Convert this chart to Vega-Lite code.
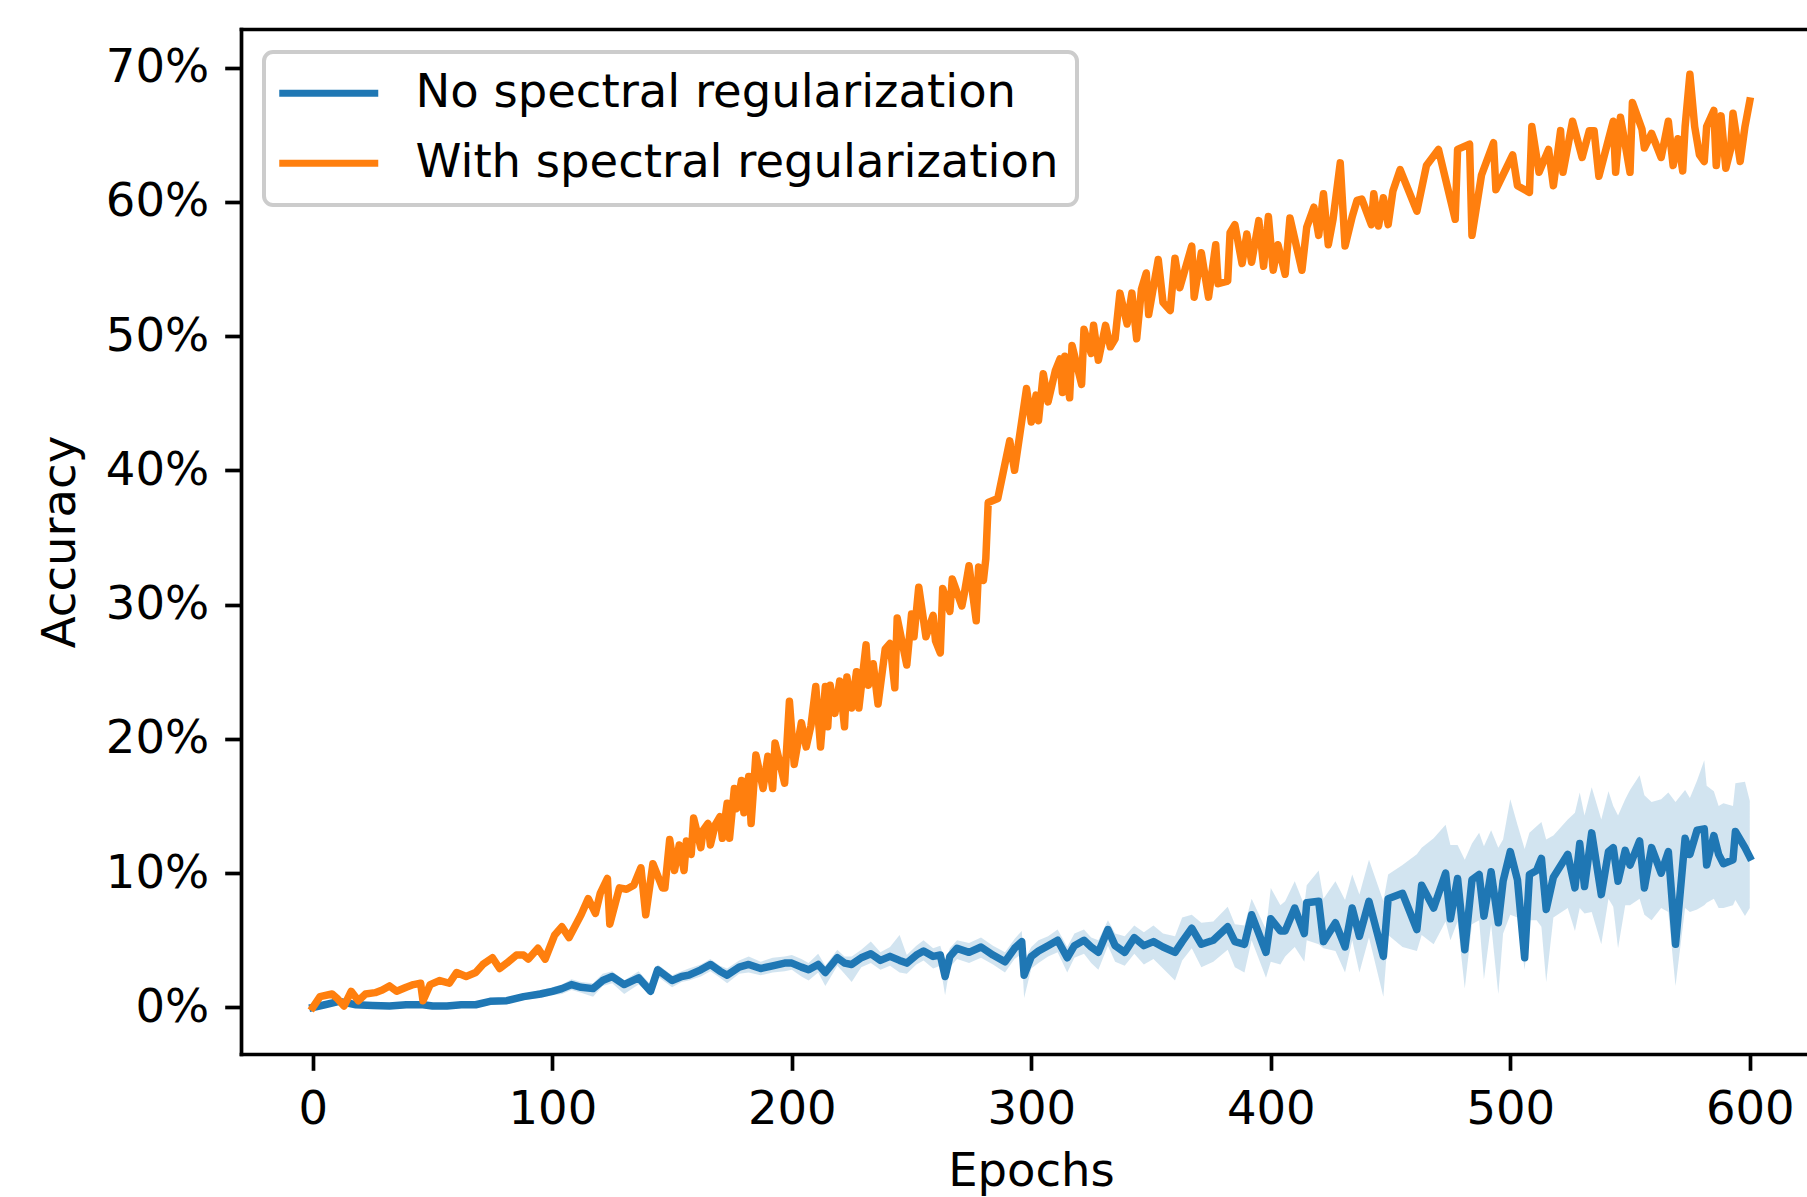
{
  "$schema": "https://vega.github.io/schema/vega-lite/v6.json",
  "width": 1566,
  "height": 1025,
  "autosize": {"type": "none"},
  "padding": {"left": 241, "top": 29, "right": 0, "bottom": 143},
  "background": "white",
  "config": {
    "view": {"stroke": null},
    "font": "DejaVu Sans",
    "axis": {
      "grid": false,
      "domainColor": "#000000",
      "domainWidth": 3.7,
      "domainCap": "square",
      "tickColor": "#000000",
      "tickWidth": 3.7,
      "tickSize": 16.3,
      "labelPadding": 16,
      "labelFontSize": 46.5,
      "labelFont": "DejaVu Sans",
      "labelColor": "#000000",
      "labelFlush": false,
      "labelOverlap": false,
      "titleFont": "DejaVu Sans",
      "titleFontSize": 46.5,
      "titleFontWeight": "normal",
      "titleColor": "#000000"
    },
    "legend": {
      "title": null,
      "orient": "none",
      "legendX": 23,
      "legendY": 23,
      "symbolType": "M-2.6,0H7.3",
      "symbolSize": 400,
      "symbolStrokeWidth": 7,
      "labelFont": "DejaVu Sans",
      "labelFontSize": 46.5,
      "labelColor": "#000000",
      "labelOffset": 87,
      "labelLimit": 0,
      "rowPadding": 23,
      "padding": 18,
      "strokeColor": "#cccccc",
      "fillColor": "rgba(255,255,255,0.8)",
      "cornerRadius": 9,
      "strokeWidth": 4
    }
  },
  "datasets": {
    "blue": [
      {"e":0,"v":0,"lo":0,"hi":0},
      {"e":5,"v":0.2,"lo":0.1,"hi":0.3},
      {"e":11,"v":0.45,"lo":0.3,"hi":0.6},
      {"e":18,"v":0.2,"lo":0.1,"hi":0.35},
      {"e":25,"v":0.15,"lo":0.05,"hi":0.3},
      {"e":32,"v":0.1,"lo":0.0,"hi":0.25},
      {"e":39,"v":0.2,"lo":0.05,"hi":0.35},
      {"e":46,"v":0.2,"lo":0.05,"hi":0.35},
      {"e":50,"v":0.1,"lo":-0.05,"hi":0.25},
      {"e":56,"v":0.1,"lo":0.0,"hi":0.25},
      {"e":62,"v":0.2,"lo":0.05,"hi":0.35},
      {"e":68,"v":0.2,"lo":0.05,"hi":0.4},
      {"e":74,"v":0.45,"lo":0.25,"hi":0.65},
      {"e":81,"v":0.5,"lo":0.3,"hi":0.75},
      {"e":88,"v":0.8,"lo":0.55,"hi":1.0},
      {"e":95,"v":1.0,"lo":0.7,"hi":1.3},
      {"e":100,"v":1.2,"lo":0.9,"hi":1.5},
      {"e":104,"v":1.4,"lo":1.0,"hi":1.7},
      {"e":108,"v":1.7,"lo":1.3,"hi":2.1},
      {"e":112,"v":1.5,"lo":1.1,"hi":1.9},
      {"e":117,"v":1.4,"lo":0.8,"hi":1.8},
      {"e":121,"v":2.0,"lo":1.6,"hi":2.5},
      {"e":125,"v":2.3,"lo":1.8,"hi":2.7},
      {"e":130,"v":1.7,"lo":1.0,"hi":2.0},
      {"e":136,"v":2.2,"lo":1.7,"hi":2.7},
      {"e":141,"v":1.2,"lo":0.9,"hi":1.7},
      {"e":144,"v":2.8,"lo":2.3,"hi":3.2},
      {"e":150,"v":2.0,"lo":1.5,"hi":2.4},
      {"e":154,"v":2.3,"lo":1.9,"hi":2.7},
      {"e":157,"v":2.4,"lo":2.0,"hi":2.9},
      {"e":162,"v":2.8,"lo":2.3,"hi":3.2},
      {"e":166,"v":3.2,"lo":2.7,"hi":3.6},
      {"e":170,"v":2.7,"lo":2.2,"hi":3.1},
      {"e":173,"v":2.4,"lo":1.8,"hi":2.9},
      {"e":178,"v":3.0,"lo":2.5,"hi":3.5},
      {"e":182,"v":3.2,"lo":2.6,"hi":3.8},
      {"e":187,"v":2.9,"lo":2.4,"hi":3.4},
      {"e":192,"v":3.1,"lo":2.6,"hi":3.7},
      {"e":197,"v":3.3,"lo":2.7,"hi":3.8},
      {"e":200,"v":3.3,"lo":2.8,"hi":3.9},
      {"e":204,"v":3.0,"lo":2.3,"hi":3.6},
      {"e":207,"v":2.8,"lo":2.0,"hi":3.3},
      {"e":211,"v":3.2,"lo":2.6,"hi":4.0},
      {"e":214,"v":2.6,"lo":1.6,"hi":3.1},
      {"e":219,"v":3.7,"lo":3.1,"hi":4.3},
      {"e":222,"v":3.3,"lo":2.5,"hi":3.8},
      {"e":225,"v":3.2,"lo":1.9,"hi":3.8},
      {"e":229,"v":3.7,"lo":3.0,"hi":4.3},
      {"e":233,"v":4.0,"lo":3.3,"hi":4.9},
      {"e":237,"v":3.5,"lo":2.8,"hi":4.1},
      {"e":241,"v":3.8,"lo":3.1,"hi":4.5},
      {"e":245,"v":3.5,"lo":2.6,"hi":5.4},
      {"e":248,"v":3.3,"lo":2.5,"hi":3.9},
      {"e":252,"v":3.9,"lo":3.2,"hi":4.6},
      {"e":255,"v":4.2,"lo":3.5,"hi":5.0},
      {"e":259,"v":3.8,"lo":2.9,"hi":4.4},
      {"e":262,"v":3.9,"lo":3.1,"hi":4.6},
      {"e":264,"v":2.3,"lo":0.9,"hi":3.4},
      {"e":266,"v":3.8,"lo":3.0,"hi":4.4},
      {"e":269,"v":4.4,"lo":3.6,"hi":5.0},
      {"e":274,"v":4.1,"lo":3.3,"hi":4.8},
      {"e":279,"v":4.5,"lo":3.7,"hi":5.2},
      {"e":284,"v":3.9,"lo":3.2,"hi":4.6},
      {"e":289,"v":3.4,"lo":2.6,"hi":4.1},
      {"e":293,"v":4.4,"lo":3.6,"hi":5.1},
      {"e":296,"v":4.9,"lo":4.0,"hi":5.7},
      {"e":297,"v":2.4,"lo":0.7,"hi":3.5},
      {"e":300,"v":3.8,"lo":2.9,"hi":4.5},
      {"e":303,"v":4.2,"lo":3.3,"hi":5.0},
      {"e":307,"v":4.6,"lo":3.8,"hi":5.3},
      {"e":311,"v":5.0,"lo":4.1,"hi":5.8},
      {"e":315,"v":3.7,"lo":2.6,"hi":4.5},
      {"e":318,"v":4.6,"lo":3.7,"hi":5.5},
      {"e":322,"v":5.0,"lo":4.0,"hi":5.8},
      {"e":325,"v":4.5,"lo":3.3,"hi":5.2},
      {"e":328,"v":4.1,"lo":2.8,"hi":5.0},
      {"e":332,"v":5.8,"lo":4.6,"hi":6.5},
      {"e":335,"v":4.6,"lo":3.4,"hi":5.5},
      {"e":339,"v":4.1,"lo":3.1,"hi":5.3},
      {"e":343,"v":5.2,"lo":4.0,"hi":6.1},
      {"e":347,"v":4.6,"lo":3.2,"hi":5.6},
      {"e":351,"v":4.9,"lo":3.6,"hi":6.1},
      {"e":355,"v":4.5,"lo":2.9,"hi":5.5},
      {"e":360,"v":4.1,"lo":2.0,"hi":5.3},
      {"e":363,"v":4.9,"lo":3.5,"hi":6.7},
      {"e":367,"v":5.9,"lo":4.4,"hi":6.9},
      {"e":371,"v":4.7,"lo":3.0,"hi":6.3},
      {"e":376,"v":5.0,"lo":3.4,"hi":6.4},
      {"e":382,"v":6.0,"lo":4.3,"hi":7.5},
      {"e":385,"v":4.9,"lo":3.0,"hi":6.2},
      {"e":389,"v":4.7,"lo":2.6,"hi":6.1},
      {"e":392,"v":6.9,"lo":5.0,"hi":8.1},
      {"e":398,"v":4.1,"lo":2.2,"hi":5.8},
      {"e":400,"v":6.6,"lo":3.4,"hi":8.9},
      {"e":404,"v":5.7,"lo":3.2,"hi":7.6},
      {"e":406,"v":5.7,"lo":3.8,"hi":7.9},
      {"e":410,"v":7.4,"lo":4.5,"hi":9.4},
      {"e":414,"v":5.5,"lo":3.4,"hi":7.6},
      {"e":415,"v":7.8,"lo":5.0,"hi":9.1},
      {"e":420,"v":7.9,"lo":4.7,"hi":10.2},
      {"e":422,"v":4.9,"lo":4.4,"hi":8.1},
      {"e":427,"v":6.3,"lo":4.2,"hi":9.4},
      {"e":431,"v":4.5,"lo":2.6,"hi":8.0},
      {"e":434,"v":7.4,"lo":5.0,"hi":9.9},
      {"e":437,"v":5.3,"lo":2.6,"hi":8.4},
      {"e":441,"v":7.9,"lo":5.2,"hi":11.0},
      {"e":447,"v":3.8,"lo":0.8,"hi":7.9},
      {"e":449,"v":8.1,"lo":5.4,"hi":9.9},
      {"e":455,"v":8.5,"lo":4.5,"hi":10.6},
      {"e":461,"v":5.8,"lo":4.2,"hi":11.4},
      {"e":463,"v":9.1,"lo":5.4,"hi":11.9},
      {"e":468,"v":7.4,"lo":4.7,"hi":12.6},
      {"e":473,"v":10.0,"lo":6.4,"hi":13.6},
      {"e":475,"v":6.6,"lo":5.0,"hi":12.1},
      {"e":478,"v":9.6,"lo":6.4,"hi":12.1},
      {"e":481,"v":4.3,"lo":1.4,"hi":11.0},
      {"e":484,"v":9.5,"lo":6.2,"hi":12.2},
      {"e":487,"v":9.9,"lo":6.5,"hi":13.0},
      {"e":489,"v":6.8,"lo":2.1,"hi":12.0},
      {"e":492,"v":10.1,"lo":6.2,"hi":13.2},
      {"e":495,"v":6.3,"lo":1.0,"hi":11.9},
      {"e":497,"v":9.4,"lo":5.5,"hi":12.5},
      {"e":500,"v":11.6,"lo":6.9,"hi":15.5},
      {"e":503,"v":9.5,"lo":6.7,"hi":13.6},
      {"e":506,"v":3.7,"lo":2.8,"hi":11.8},
      {"e":508,"v":9.9,"lo":6.5,"hi":13.0},
      {"e":511,"v":10.2,"lo":6.5,"hi":13.5},
      {"e":513,"v":11.1,"lo":6.0,"hi":13.8},
      {"e":515,"v":7.3,"lo":1.9,"hi":12.5},
      {"e":518,"v":9.7,"lo":6.7,"hi":12.8},
      {"e":524,"v":11.4,"lo":7.4,"hi":14.0},
      {"e":527,"v":8.9,"lo":5.7,"hi":14.5},
      {"e":529,"v":12.2,"lo":7.4,"hi":16.0},
      {"e":531,"v":9.0,"lo":7.0,"hi":14.3},
      {"e":534,"v":13.0,"lo":7.1,"hi":16.4},
      {"e":538,"v":8.4,"lo":4.7,"hi":14.0},
      {"e":541,"v":11.6,"lo":8.1,"hi":16.1},
      {"e":543,"v":11.9,"lo":7.5,"hi":15.0},
      {"e":545,"v":9.4,"lo":4.4,"hi":14.3},
      {"e":548,"v":11.7,"lo":7.6,"hi":15.5},
      {"e":550,"v":10.6,"lo":7.6,"hi":16.2},
      {"e":554,"v":12.4,"lo":8.1,"hi":17.3},
      {"e":556,"v":8.9,"lo":6.9,"hi":15.8},
      {"e":559,"v":11.9,"lo":6.5,"hi":15.3},
      {"e":563,"v":10.0,"lo":7.4,"hi":15.5},
      {"e":566,"v":11.6,"lo":7.1,"hi":16.0},
      {"e":569,"v":4.7,"lo":1.6,"hi":15.3},
      {"e":573,"v":12.6,"lo":7.4,"hi":16.2},
      {"e":575,"v":11.4,"lo":7.1,"hi":15.6},
      {"e":578,"v":13.2,"lo":7.3,"hi":16.9},
      {"e":581,"v":13.3,"lo":7.6,"hi":18.4},
      {"e":582,"v":10.6,"lo":7.8,"hi":16.5},
      {"e":585,"v":12.8,"lo":8.1,"hi":16.1},
      {"e":587,"v":11.4,"lo":7.4,"hi":15.0},
      {"e":589,"v":10.7,"lo":7.4,"hi":15.2},
      {"e":593,"v":11.0,"lo":7.6,"hi":15.0},
      {"e":594,"v":13.1,"lo":8.0,"hi":16.7},
      {"e":598,"v":11.9,"lo":6.8,"hi":16.8},
      {"e":600,"v":11.2,"lo":7.4,"hi":15.4}
    ],
    "orange": [
      {"e":0,"v":0.0},{"e":3,"v":0.8},{"e":8,"v":1.0},{"e":10,"v":0.7},{"e":13,"v":0.1},
      {"e":16,"v":1.2},{"e":19,"v":0.5},{"e":22,"v":1.0},{"e":26,"v":1.1},{"e":29,"v":1.3},
      {"e":32,"v":1.6},{"e":35,"v":1.2},{"e":39,"v":1.5},{"e":42,"v":1.7},{"e":45,"v":1.8},
      {"e":46,"v":0.5},{"e":49,"v":1.7},{"e":53,"v":2.0},{"e":57,"v":1.8},{"e":60,"v":2.6},
      {"e":64,"v":2.3},{"e":68,"v":2.6},{"e":71,"v":3.2},{"e":75,"v":3.7},{"e":78,"v":2.9},
      {"e":81,"v":3.3},{"e":85,"v":3.9},{"e":88,"v":3.9},{"e":90,"v":3.6},{"e":94,"v":4.4},
      {"e":97,"v":3.6},{"e":101,"v":5.4},{"e":104,"v":6.0},{"e":107,"v":5.2},{"e":112,"v":6.9},
      {"e":115,"v":8.1},{"e":118,"v":7.0},{"e":120,"v":8.5},{"e":123,"v":9.6},{"e":124,"v":6.2},
      {"e":128,"v":8.9},{"e":131,"v":8.8},{"e":134,"v":9.1},{"e":137,"v":10.4},{"e":139,"v":6.9},
      {"e":142,"v":10.7},{"e":146,"v":8.9},{"e":147,"v":8.9},{"e":149,"v":12.5},{"e":151,"v":10.2},
      {"e":153,"v":12.1},{"e":155,"v":10.2},{"e":156,"v":12.4},{"e":158,"v":11.4},{"e":159,"v":14.1},
      {"e":162,"v":11.9},{"e":163,"v":13.2},{"e":165,"v":13.7},{"e":166,"v":12.1},{"e":168,"v":13.6},
      {"e":170,"v":14.2},{"e":171,"v":12.6},{"e":173,"v":15.2},{"e":174,"v":12.6},{"e":176,"v":16.3},
      {"e":177,"v":14.8},{"e":179,"v":16.9},{"e":180,"v":14.5},{"e":182,"v":17.2},{"e":183,"v":13.7},
      {"e":185,"v":18.8},{"e":188,"v":16.3},{"e":190,"v":18.7},{"e":192,"v":16.3},{"e":193,"v":19.7},
      {"e":197,"v":16.7},{"e":199,"v":22.8},{"e":201,"v":18.1},{"e":204,"v":21.2},{"e":206,"v":19.4},
      {"e":208,"v":21.0},{"e":210,"v":23.9},{"e":212,"v":19.4},{"e":214,"v":23.9},{"e":215,"v":20.9},
      {"e":216,"v":24.0},{"e":218,"v":21.9},{"e":220,"v":24.3},{"e":222,"v":20.9},{"e":223,"v":24.6},
      {"e":225,"v":22.3},{"e":227,"v":25.0},{"e":228,"v":22.3},{"e":231,"v":27.0},{"e":232,"v":24.0},
      {"e":234,"v":25.6},{"e":236,"v":22.6},{"e":239,"v":26.7},{"e":241,"v":27.1},{"e":243,"v":23.8},
      {"e":244,"v":29.0},{"e":248,"v":25.5},{"e":250,"v":29.3},{"e":251,"v":27.6},{"e":253,"v":31.3},
      {"e":256,"v":27.6},{"e":259,"v":29.2},{"e":260,"v":27.3},{"e":262,"v":26.4},{"e":263,"v":31.2},
      {"e":266,"v":29.5},{"e":267,"v":31.9},{"e":271,"v":29.9},{"e":272,"v":30.8},{"e":274,"v":32.9},
      {"e":277,"v":28.8},{"e":278,"v":32.8},{"e":280,"v":31.8},{"e":281,"v":33.4},{"e":282,"v":37.6},
      {"e":286,"v":37.9},{"e":291,"v":42.2},{"e":293,"v":40.0},{"e":298,"v":46.1},{"e":300,"v":43.6},
      {"e":302,"v":45.6},{"e":303,"v":43.7},{"e":305,"v":47.2},{"e":307,"v":45.1},{"e":310,"v":47.4},
      {"e":312,"v":48.3},{"e":313,"v":45.8},{"e":314,"v":48.5},{"e":316,"v":45.4},{"e":317,"v":49.3},
      {"e":321,"v":46.4},{"e":322,"v":50.5},{"e":325,"v":48.7},{"e":326,"v":50.8},{"e":328,"v":48.2},
      {"e":331,"v":50.8},{"e":333,"v":49.2},{"e":335,"v":49.8},{"e":337,"v":53.2},{"e":340,"v":50.9},
      {"e":342,"v":53.2},{"e":344,"v":49.8},{"e":346,"v":53.5},{"e":348,"v":54.7},{"e":349,"v":51.6},
      {"e":353,"v":55.7},{"e":355,"v":52.5},{"e":358,"v":51.9},{"e":360,"v":55.8},{"e":362,"v":53.6},
      {"e":367,"v":56.7},{"e":368,"v":52.9},{"e":371,"v":56.2},{"e":374,"v":52.9},{"e":377,"v":56.8},
      {"e":378,"v":53.9},{"e":382,"v":54.1},{"e":383,"v":57.7},{"e":385,"v":58.3},{"e":388,"v":55.4},
      {"e":390,"v":57.6},{"e":392,"v":55.5},{"e":395,"v":58.6},{"e":397,"v":55.2},{"e":399,"v":58.9},
      {"e":401,"v":54.9},{"e":403,"v":56.8},{"e":406,"v":54.6},{"e":408,"v":58.8},{"e":413,"v":54.9},
      {"e":415,"v":58.1},{"e":418,"v":59.6},{"e":420,"v":57.5},{"e":422,"v":60.6},{"e":424,"v":56.8},
      {"e":426,"v":58.7},{"e":429,"v":62.9},{"e":431,"v":56.7},{"e":434,"v":58.9},{"e":436,"v":60.1},
      {"e":438,"v":60.2},{"e":442,"v":58.3},{"e":443,"v":60.6},{"e":445,"v":58.2},{"e":447,"v":60.3},
      {"e":449,"v":58.3},{"e":451,"v":60.8},{"e":454,"v":62.4},{"e":461,"v":59.3},{"e":465,"v":62.7},
      {"e":470,"v":63.9},{"e":477,"v":58.7},{"e":478,"v":63.9},{"e":483,"v":64.3},{"e":484,"v":57.5},
      {"e":488,"v":62.0},{"e":493,"v":64.4},{"e":494,"v":60.9},{"e":501,"v":63.5},{"e":503,"v":61.2},
      {"e":508,"v":60.7},{"e":509,"v":65.6},{"e":512,"v":62.2},{"e":516,"v":63.9},{"e":518,"v":61.2},
      {"e":521,"v":65.3},{"e":522,"v":62.2},{"e":526,"v":66.0},{"e":530,"v":63.3},{"e":533,"v":65.3},
      {"e":535,"v":65.3},{"e":537,"v":61.9},{"e":543,"v":66.0},{"e":544,"v":62.2},{"e":546,"v":66.3},
      {"e":550,"v":62.2},{"e":551,"v":67.4},{"e":555,"v":65.4},{"e":556,"v":64.0},{"e":559,"v":65.1},
      {"e":563,"v":63.3},{"e":566,"v":66.0},{"e":568,"v":62.7},{"e":570,"v":64.7},{"e":572,"v":62.3},
      {"e":573,"v":65.6},{"e":575,"v":69.5},{"e":577,"v":65.6},{"e":579,"v":63.5},{"e":581,"v":63.0},
      {"e":582,"v":65.6},{"e":585,"v":66.8},{"e":586,"v":62.7},{"e":588,"v":66.4},{"e":590,"v":62.5},
      {"e":592,"v":63.9},{"e":593,"v":66.6},{"e":596,"v":63.0},{"e":598,"v":65.6},{"e":600,"v":67.5}
    ]
  },
  "layer": [
    {
      "data": {"name": "blue"},
      "mark": {"type": "area", "color": "#1f77b4", "fillOpacity": 0.2, "strokeWidth": 0},
      "encoding": {
        "x": {
          "field": "e", "type": "quantitative",
          "scale": {"domain": [-30, 623.9], "nice": false, "zero": false},
          "axis": {"orient": "top", "labels": false, "ticks": false, "title": null, "domain": true}
        },
        "y": {
          "field": "lo", "type": "quantitative", "title": "Accuracy",
          "scale": {"domain": [-3.47, 72.87], "nice": false, "zero": false},
          "axis": {"values": [0, 10, 20, 30, 40, 50, 60, 70], "labelExpr": "datum.value + '%'", "titlePadding": 21}
        },
        "y2": {"field": "hi"}
      }
    },
    {
      "data": {"name": "blue"},
      "mark": {"type": "line", "strokeWidth": 7.5, "strokeJoin": "round", "strokeCap": "square"},
      "encoding": {
        "x": {
          "field": "e", "type": "quantitative", "title": "Epochs",
          "axis": {"orient": "bottom", "values": [0, 100, 200, 300, 400, 500, 600], "titleX": 790, "titlePadding": 16}
        },
        "y": {"field": "v", "type": "quantitative", "title": "Accuracy"},
        "color": {
          "datum": "No spectral regularization", "type": "nominal",
          "scale": {"domain": ["No spectral regularization", "With spectral regularization"], "range": ["#1f77b4", "#ff7f0e"]}
        }
      }
    },
    {
      "data": {"name": "orange"},
      "mark": {"type": "line", "strokeWidth": 7.5, "strokeJoin": "round", "strokeCap": "square"},
      "encoding": {
        "x": {"field": "e", "type": "quantitative", "axis": null},
        "y": {"field": "v", "type": "quantitative", "title": "Accuracy"},
        "color": {"datum": "With spectral regularization", "type": "nominal"}
      }
    }
  ],
  "resolve": {"axis": {"x": "independent"}}
}
